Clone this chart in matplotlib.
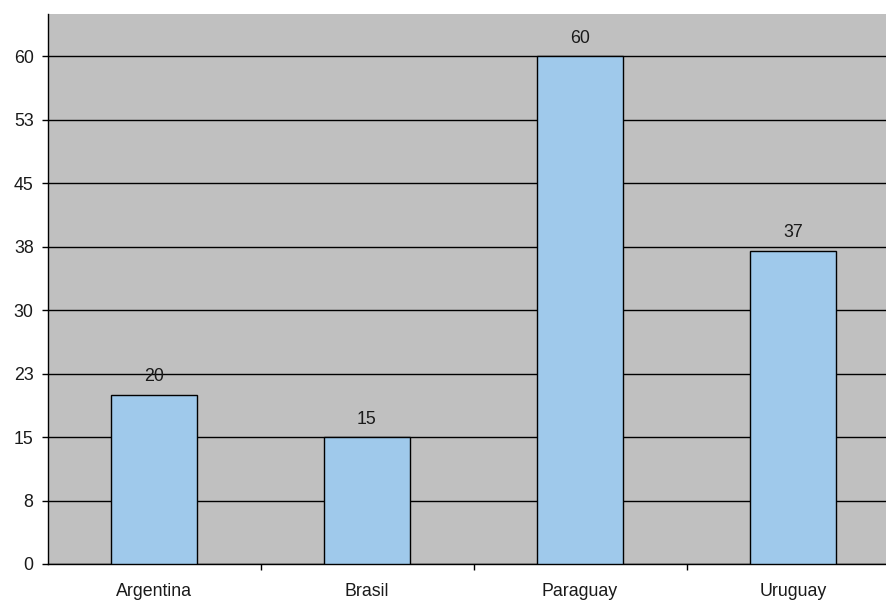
import matplotlib.pyplot as plt
import numpy as np
from matplotlib.ticker import FuncFormatter, FixedLocator

plt.rcParams['font.family'] = ['Liberation Sans', 'DejaVu Sans']

paises = ['Argentina', 'Brasil', 'Paraguay', 'Uruguay']
valores = [20, 15, 60, 37]
yticks = np.arange(0, 61, 7.5)

fs = 12.8

fig = plt.figure(figsize=(8.86, 6.03), dpi=100)
# plot area runs a little past the right edge of the figure
ax = fig.add_axes([47.5 / 886, 39 / 603, 852 / 886, 550 / 603])
ax.set_facecolor('#c0c0c0')

x = np.arange(len(paises))
ax.bar(x, valores, width=0.4, color='#9fc9eb', edgecolor='black', linewidth=1, zorder=3)
for xi, v in zip(x, valores):
    ax.annotate('%d' % v, (xi, v), xytext=(0, 13), textcoords='offset points',
                ha='center', va='center', fontsize=fs, color='#1a1a1a', zorder=4)

ax.set_xlim(-0.5, len(paises) - 0.5)
ax.set_ylim(0, 65)
ax.set_yticks(yticks)
ax.yaxis.set_major_formatter(FuncFormatter(lambda v, p: '%d' % int(v + 0.5)))
ax.grid(axis='y', color='black', linewidth=1, zorder=1)

ax.set_xticks(x)
ax.set_xticklabels(paises)
ax.xaxis.set_minor_locator(FixedLocator(x[:-1] + 0.5))
ax.tick_params(axis='x', which='major', length=0, pad=14, labelsize=fs, colors='#1a1a1a')
ax.tick_params(axis='x', which='minor', length=4.5, width=1, color='black')
ax.tick_params(axis='y', length=4.5, width=1, pad=5.5, labelsize=fs, colors='#1a1a1a')
ax.tick_params(axis='y', color='black')

for s in ['top', 'right']:
    ax.spines[s].set_visible(False)
for s in ['left', 'bottom']:
    ax.spines[s].set_color('black')
    ax.spines[s].set_linewidth(1)

fig.savefig('out.png', dpi=100)
